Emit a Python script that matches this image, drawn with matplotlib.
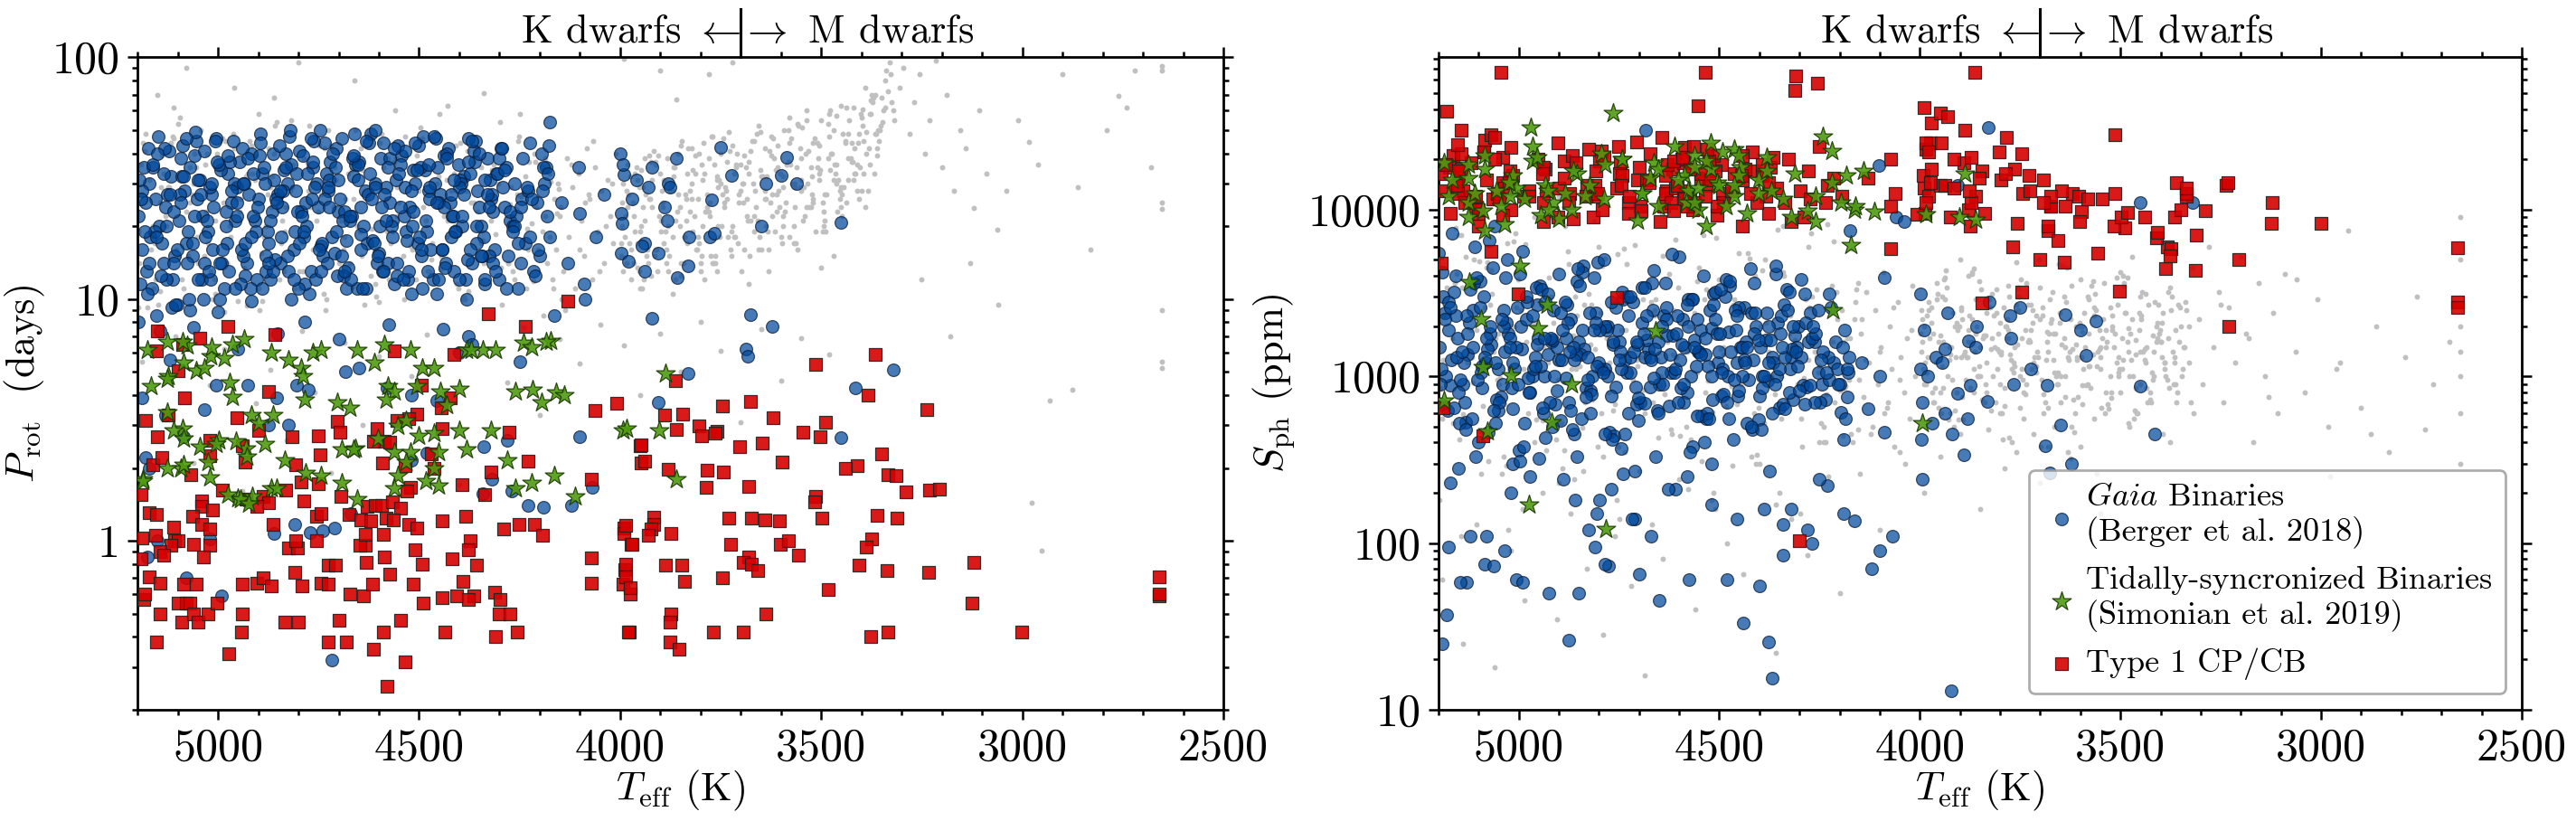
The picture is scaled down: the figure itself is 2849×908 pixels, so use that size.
import numpy as np
import matplotlib
matplotlib.use("Agg")
import matplotlib.pyplot as plt
import matplotlib.transforms as mtransforms
from matplotlib.ticker import FuncFormatter, MultipleLocator, LogLocator, NullFormatter

plt.rcParams["font.family"] = ["cmr10", "DejaVu Serif"]
plt.rcParams["mathtext.fontset"] = "cm"
plt.rcParams["axes.formatter.use_mathtext"] = True
plt.rcParams["axes.unicode_minus"] = False

# ---------------- data (Teff [K], Prot [days], Sph [ppm]) ----------------
# gray: all stars, dense K-dwarf cloud
GRAY_A_TEFF = [
    5195, 5172, 5148, 5131, 5117, 5090, 5066, 5052, 5031, 5008,
    4987, 4963, 4941, 4925, 4902, 4880, 4861, 4837, 4816, 4792,
    4774, 4751, 4733, 4710, 4688, 4662, 4645, 4621, 4603, 4580,
    4558, 4537, 4511, 4493, 4470, 4452, 4428, 4406, 4383, 4361,
    4342, 4318, 4297, 4275, 4254, 4231, 4212, 4190, 4172, 4158,
    5188, 5160, 5139, 5104, 5079, 5043, 5019, 4995, 4972, 4950,
    4918, 4893, 4870, 4848, 4825, 4803, 4781, 4760, 4738, 4716,
    4695, 4671, 4652, 4630, 4610, 4589, 4566, 4545, 4522, 4500,
    4478, 4459, 4437, 4414, 4392, 4370, 4349, 4326, 4304, 4284,
    4262, 4240, 4220, 4199, 4181, 4164, 5176, 5111, 5024, 4931,
    5199, 5183, 5155, 5124, 5097, 5071, 5047, 5013, 4982, 4956,
    4935, 4909, 4886, 4854, 4831, 4809, 4786, 4765, 4744, 4720,
    4699, 4677, 4655, 4636, 4614, 4594, 4571, 4550, 4528, 4505,
    4484, 4463, 4444, 4420, 4398, 4377, 4355, 4333, 4311, 4290,
    4268, 4246, 4226, 4205, 4186, 4167, 5141, 5058, 4977, 4868,
    5191, 5166, 5144, 5113, 5085, 5062, 5037, 5002, 4978, 4946,
    4914, 4897, 4875, 4842, 4820, 4797, 4777, 4755, 4727, 4705,
    4683, 4666, 4640, 4617, 4598, 4575, 4555, 4533, 4516, 4489,
    4466, 4447, 4432, 4410, 4388, 4365, 4345, 4322, 4300, 4279,
    4258, 4235, 4216, 4194, 4176, 4153, 5128, 5035, 4960, 4890,
    5198, 5179, 5157, 5136, 5119, 5094, 5070, 5049, 5027, 5006,
    4984, 4960, 4938, 4921, 4899, 4877, 4858, 4834, 4813, 4789,
    4771, 4748, 4730, 4707, 4685, 4659, 4642, 4618, 4600, 4577,
    4556, 4534, 4508, 4490, 4467, 4449, 4425, 4403, 4380, 4358,
    4339, 4315, 4294, 4272, 4251, 4228, 4209, 4187, 4169, 4155,
    5186, 5163, 5143, 5121, 5099, 5075, 5054, 5029, 5010, 4990,
    4968, 4944, 4928, 4906, 4884, 4865, 4840, 4818, 4795, 4776,
    4753, 4736, 4713, 4691, 4667, 4648, 4625, 4606, 4583, 4561,
    4540, 4514, 4496, 4473, 4455, 4431, 4409, 4386, 4364, 4345,
    4321, 4299, 4278, 4257, 4233, 4214, 4192, 4174, 4160, 4151,
]
GRAY_A_PROT = [
    14, 31, 9.5, 22, 44, 12, 27, 18, 36, 10.5,
    25, 48, 15, 33, 11, 20, 40, 13, 29, 17,
    52, 23, 9, 35, 16, 26, 42, 12.5, 30, 19,
    38, 10, 24, 46, 14.5, 32, 21, 11.5, 28, 41,
    17.5, 34, 13.5, 24.5, 45, 19.5, 37, 8.5, 30.5, 22.5,
    27, 11, 39, 16, 23, 50, 13, 34, 20, 9.8,
    43, 15.5, 29, 12, 37, 24, 18, 47, 10.5, 31,
    21, 14, 40, 26, 11.5, 35, 19, 44, 16.5, 28,
    13, 49, 22, 33, 10, 25, 38, 15, 30, 42,
    12, 27.5, 20.5, 36, 14, 26, 9.2, 46, 17, 32,
    19, 41, 12, 29, 15, 35, 22, 10, 45, 26,
    13.5, 31, 18, 54, 24, 11, 38, 16, 27, 43,
    14, 33, 20, 9.5, 30, 48, 17, 25, 12.5, 39,
    21, 35.5, 15, 28, 44, 10.8, 23, 32, 18.5, 41,
    13, 26.5, 37, 16, 22, 11, 29, 40, 14, 24,
    36, 16, 25, 47, 11, 30, 19, 40, 14, 23,
    33, 9, 42, 17, 28, 13, 36.5, 21, 50, 15,
    26, 11.2, 34, 19.5, 44, 12, 29, 39, 16, 24,
    46, 13.2, 31, 20, 10.2, 37, 17, 27, 43, 14,
    23.5, 32, 11.8, 35, 18, 28.5, 20, 15, 42, 9.8,
    9.2, 48, 17, 33, 12, 56, 25, 14, 40, 21,
    8.8, 30, 16, 45, 11, 27, 52, 19, 36, 13,
    24, 43, 10, 31, 18, 50, 15, 28, 9.7, 38,
    22, 47, 12, 34, 17, 58, 26, 11, 41, 20,
    14, 36, 9.5, 29, 47, 16, 24, 38, 12, 30,
    44, 20, 10.8, 29, 53, 15, 35, 23, 12, 46,
    18, 26, 9.4, 39, 14, 32, 21, 55, 11, 28,
    17, 42, 24, 13, 34, 19, 48, 10.2, 26, 37,
    15, 22, 51, 13, 30, 18, 43, 10, 25, 35,
    21, 54, 14, 27, 11, 40, 19, 33, 16, 22,
]
GRAY_A_SPH = [
    850, 2400, 420, 5200, 1300, 660, 3100, 1800, 290, 7200,
    1100, 2000, 540, 3900, 950, 1500, 240, 2700, 720, 4600,
    1200, 380, 1900, 6100, 830, 2300, 1000, 480, 3400, 1400,
    610, 2900, 160, 1700, 870, 5500, 1150, 340, 2100, 780,
    4200, 1350, 560, 2600, 1050, 8200, 700, 1600, 450, 3300,
    1250, 3600, 590, 1900, 4800, 260, 1050, 2500, 760, 1450,
    9000, 520, 2200, 1150, 3100, 380, 1700, 680, 5800, 950,
    1300, 2800, 430, 1600, 6600, 880, 2000, 310, 1200, 3800,
    740, 1500, 2400, 600, 4300, 1000, 200, 1800, 900, 2900,
    1400, 500, 3500, 820, 1700, 2200, 650, 5000, 1100, 360,
    2100, 700, 4100, 1350, 470, 2700, 980, 6400, 1600, 550,
    3200, 1200, 360, 2300, 840, 1450, 5100, 620, 1900, 1050,
    270, 3700, 1250, 780, 2500, 1500, 420, 4500, 940, 1800,
    660, 2900, 1150, 330, 2000, 1400, 7600, 710, 1650, 980,
    3000, 520, 1300, 2200, 870, 400, 3400, 1700, 600, 1100,
    560, 1700, 7000, 920, 2600, 1400, 330, 3800, 1000, 640,
    2100, 1250, 4700, 490, 1550, 2400, 800, 180, 3000, 1150,
    1900, 700, 5300, 1350, 440, 2000, 1050, 3300, 610, 1500,
    2700, 900, 1200, 4000, 520, 1750, 1000, 2300, 750, 6000,
    1300, 400, 1600, 2500, 950, 3600, 1200, 680, 2100, 280,
    180, 3400, 7800, 550, 1900, 260, 4300, 900, 120, 2600,
    6200, 400, 1500, 3000, 230, 5600, 1100, 700, 8600, 330,
    2100, 140, 4700, 1250, 600, 2900, 9500, 450, 1700, 210,
    3700, 800, 6800, 1350, 290, 2300, 5100, 650, 1000, 170,
    4000, 1550, 380, 7200, 1150, 250, 3200, 850, 5800, 480,
    2300, 520, 110, 1400, 4900, 310, 950, 6300, 2000, 160,
    750, 3500, 1200, 420, 8000, 1750, 270, 2700, 600, 1100,
    5400, 350, 1600, 2900, 130, 880, 4100, 1300, 500, 2400,
    7000, 200, 1450, 3800, 680, 1000, 300, 5000, 1900, 560,
    2500, 150, 1250, 3300, 780, 6400, 440, 1700, 2800, 950,
]

# gray: sparse strip between the K and M clouds
GRAY_B_TEFF = [4148, 4141, 4133, 4127, 4119, 4112, 4104, 4097, 4090, 4083,
               4076, 4070, 4063, 4055, 4047, 4040, 4032, 4025, 4018, 4011,
               4145, 4122, 4101, 4088, 4066, 4051, 4036, 4021, 4137, 4079]
GRAY_B_PROT = [24, 13, 38, 18, 29, 11, 33, 21, 15, 42,
               26, 12, 35, 19, 28, 14, 31, 22, 17, 40,
               10, 36, 16, 25, 45, 13, 20, 30, 9, 27]
GRAY_B_SPH = [1800, 750, 3200, 1200, 500, 2500, 900, 1500, 4200, 650,
              2000, 1100, 380, 2800, 1300, 800, 1700, 560, 3500, 1000,
              2200, 450, 1400, 600, 2600, 950, 300, 1900, 1250, 700]

# gray: M-dwarf cloud
GRAY_C_TEFF = [
    3998, 3985, 3972, 3960, 3947, 3933, 3921, 3908, 3894, 3882,
    3869, 3855, 3842, 3830, 3816, 3803, 3790, 3777, 3764, 3750,
    3738, 3724, 3711, 3698, 3684, 3671, 3658, 3645, 3632, 3618,
    3605, 3592, 3579, 3566, 3552, 3540, 3526, 3513, 3500, 3486,
    3473, 3460, 3447, 3434, 3420, 3407, 3394, 3380, 3366, 3352,
    3992, 3978, 3966, 3953, 3940, 3926, 3914, 3901, 3888, 3875,
    3862, 3849, 3836, 3823, 3810, 3797, 3783, 3770, 3757, 3744,
    3731, 3717, 3704, 3691, 3678, 3664, 3651, 3638, 3625, 3611,
    3598, 3585, 3572, 3559, 3546, 3533, 3520, 3506, 3493, 3480,
    3466, 3453, 3440, 3427, 3414, 3400, 3387, 3373, 3360, 3340,
    3995, 3981, 3969, 3956, 3943, 3930, 3917, 3904, 3891, 3878,
    3865, 3852, 3839, 3826, 3813, 3800, 3787, 3773, 3760, 3747,
    3734, 3721, 3708, 3694, 3681, 3668, 3655, 3641, 3628, 3615,
    3602, 3588, 3575, 3562, 3549, 3536, 3523, 3510, 3496, 3483,
    3470, 3457, 3444, 3430, 3417, 3404, 3390, 3377, 3363, 3330,
    3996, 3983, 3963, 3950, 3937, 3924, 3911, 3898, 3885, 3872,
    3859, 3846, 3833, 3820, 3807, 3794, 3780, 3767, 3754, 3741,
    3728, 3714, 3701, 3688, 3675, 3661, 3648, 3635, 3622, 3608,
    3595, 3582, 3569, 3556, 3543, 3530, 3516, 3503, 3490, 3476,
    3463, 3450, 3437, 3423, 3410, 3397, 3384, 3370, 3356, 3345,
    3989, 3975, 3958, 3944, 3928, 3913, 3896, 3880, 3866, 3850,
    3835, 3819, 3805, 3789, 3775, 3760, 3745, 3730, 3716, 3700,
    3686, 3670, 3656, 3640, 3626, 3612, 3596, 3580, 3566, 3550,
    3536, 3521, 3506, 3492, 3478, 3462, 3448, 3433, 3418, 3402,
    3389, 3375, 3358, 3342, 3328, 3318, 3945, 3790, 3630, 3470,
    3993, 3979, 3964, 3949, 3935, 3920, 3906, 3892, 3877, 3863,
    3848, 3834, 3821, 3806, 3792, 3778, 3763, 3749, 3735, 3720,
    3706, 3692, 3677, 3663, 3649, 3634, 3620, 3606, 3591, 3577,
    3563, 3548, 3534, 3520, 3505, 3491, 3477, 3462, 3448, 3434,
    3419, 3405, 3391, 3376, 3362, 3348, 3335, 3950, 3760, 3560,
    3987, 3972, 3957, 3942, 3927, 3912, 3898, 3884, 3870, 3856,
    3841, 3827, 3812, 3798, 3784, 3770, 3756, 3741, 3726, 3711,
    3697, 3683, 3668, 3654, 3639, 3625, 3611, 3596, 3582, 3568,
    3553, 3539, 3525, 3510, 3496, 3482, 3468, 3453, 3439, 3425,
    3411, 3396, 3382, 3368, 3354, 3338, 3325, 3870, 3680, 3500,
    3997, 3982, 3967, 3953, 3938, 3923, 3909, 3895, 3880, 3866,
    3852, 3837, 3823, 3809, 3795, 3780, 3766, 3752, 3737, 3723,
    3709, 3694, 3680, 3666, 3652, 3637, 3623, 3609, 3594, 3580,
    3566, 3551, 3537, 3523, 3508, 3494, 3480, 3465, 3451, 3437,
    3422, 3408, 3394, 3379, 3365, 3350, 3400, 3450, 3600, 3800,
]
GRAY_C_PROT = [
    15, 28, 12, 35, 20, 16, 31, 13, 24, 38,
    18, 27, 14, 42, 22, 17, 33, 25, 15, 40,
    29, 19, 36, 13, 26, 45, 21, 32, 16, 38,
    24, 50, 18, 30, 42, 22, 35, 19, 55, 27,
    40, 23, 48, 31, 62, 26, 45, 36, 70, 52,
    30, 17, 22, 13, 38, 26, 15, 33, 19, 28,
    12, 43, 21, 30, 16, 36, 24, 14, 29, 46,
    18, 33, 25, 39, 15, 28, 34, 20, 47, 27,
    17, 36, 30, 53, 21, 41, 26, 33, 20, 58,
    36, 28, 44, 38, 33, 56, 49, 65, 42, 80,
    20, 36, 25, 17, 29, 14, 41, 22, 31, 15,
    35, 24, 18, 28, 39, 13, 23, 47, 32, 20,
    26, 43, 17, 30, 37, 22, 52, 28, 41, 19,
    33, 25, 46, 35, 28, 60, 32, 44, 25, 38,
    50, 31, 29, 55, 42, 35, 75, 58, 48, 95,
    25, 14, 33, 19, 27, 12.5, 37, 21, 16, 30,
    23, 45, 17, 34, 26, 20, 38, 14, 31, 24,
    41, 18, 28, 35, 21, 48, 16, 32, 27, 43,
    22, 37, 17, 52, 29, 24, 46, 34, 19, 40,
    30, 63, 25, 44, 36, 52, 28, 68, 45, 60,
    18, 32, 13.5, 24, 39, 16, 28, 20, 35, 14,
    26, 19, 40, 23, 15, 31, 27, 49, 18, 36,
    22, 30, 16, 42, 25, 34, 20, 56, 29, 38,
    24, 44, 31, 27, 60, 36, 22, 48, 33, 58,
    40, 70, 50, 62, 85, 55, 11, 12, 13, 15,
    13, 27, 19, 34, 15, 24, 39, 17, 29, 21,
    12.5, 33, 26, 18, 44, 22, 14, 30, 37, 20,
    27, 16, 41, 24, 32, 19, 46, 28, 23, 36,
    17, 51, 30, 25, 43, 21, 34, 57, 27, 38,
    31, 48, 24, 66, 39, 54, 72, 11, 13, 16,
    22, 16, 31, 12, 26, 36, 19, 14, 28, 40,
    18, 23, 33, 15, 27, 47, 20, 25, 16, 35,
    30, 21, 45, 18, 26, 39, 23, 32, 50, 20,
    29, 40, 24, 35, 19, 53, 31, 26, 45, 37,
    28, 61, 42, 33, 50, 88, 65, 10.5, 11.5, 13.5,
    17, 24, 14, 29, 21, 37, 16, 25, 13, 32,
    20, 27, 42, 16, 31, 23, 36, 18, 28, 15,
    40, 25, 33, 19, 49, 26, 22, 35, 29, 44,
    24, 31, 55, 27, 38, 23, 47, 33, 29, 62,
    37, 44, 33, 58, 48, 68, 28, 24, 18, 14,
]
GRAY_C_SPH = [
    1800, 900, 2600, 1200, 600, 3400, 1500, 2100, 750, 1300,
    4200, 1000, 1700, 480, 2300, 1400, 850, 3000, 1150, 650,
    1900, 2700, 1050, 380, 1600, 2200, 900, 4600, 1300, 720,
    2000, 1100, 2900, 560, 1450, 3600, 1000, 1800, 800, 2400,
    1250, 600, 3200, 1500, 950, 2100, 450, 1700, 1200, 2600,
    1100, 2500, 700, 1600, 3800, 1250, 500, 2000, 1400, 850,
    2900, 1000, 1750, 620, 3300, 1350, 2200, 400, 1550, 950,
    2700, 1200, 5000, 780, 1800, 1050, 2400, 1500, 320, 2000,
    1300, 880, 3500, 1150, 1700, 680, 2300, 1000, 4000, 1400,
    560, 1900, 1250, 800, 2800, 1600, 1000, 3000, 700, 1500,
    2200, 1300, 800, 3100, 1600, 1000, 2400, 550, 1350, 1900,
    4400, 1150, 700, 2600, 1500, 900, 2000, 1250, 350, 1700,
    3600, 1100, 1400, 2300, 650, 1800, 1050, 3000, 1250, 460,
    2100, 1500, 850, 2500, 1300, 1900, 740, 3900, 1100, 1600,
    2200, 600, 1400, 2700, 1000, 1800, 1200, 3400, 900, 2000,
    1400, 2300, 850, 1750, 3900, 600, 1300, 2600, 950, 1600,
    2000, 720, 1200, 3100, 1450, 420, 1900, 1050, 2500, 800,
    1650, 1300, 3400, 700, 2100, 1000, 1550, 2800, 500, 1250,
    1850, 900, 3700, 1400, 2200, 640, 1500, 1100, 2400, 1800,
    850, 3000, 1200, 700, 1600, 2100, 950, 1400, 2700, 1100,
    900, 1700, 2900, 1150, 550, 2000, 1300, 4000, 800, 1500,
    2400, 1000, 1800, 660, 1350, 2700, 1100, 1600, 450, 2200,
    1250, 3200, 900, 1700, 1400, 600, 2000, 1150, 2600, 1500,
    800, 1900, 1300, 3500, 1000, 1650, 2300, 700, 1400, 1900,
    1100, 2500, 800, 1500, 1200, 600, 3000, 280, 350, 5200,
    1600, 2800, 700, 1250, 4300, 950, 1900, 550, 2300, 1400,
    3300, 800, 1700, 1100, 2600, 430, 1500, 3800, 900, 2100,
    1300, 600, 2900, 1800, 1000, 4500, 1450, 750, 2400, 1150,
    3100, 650, 1600, 2000, 1050, 3600, 500, 1350, 2200, 850,
    1750, 2700, 1200, 400, 1900, 1000, 2500, 330, 4800, 260,
    1200, 2100, 3600, 850, 1500, 620, 2500, 1300, 4100, 1000,
    1750, 2900, 700, 1400, 2000, 1100, 3400, 560, 1600, 2300,
    950, 1850, 1250, 4700, 750, 2200, 1550, 880, 3000, 1350,
    1900, 600, 2600, 1200, 1700, 3900, 1000, 2400, 1450, 720,
    2000, 1300, 3200, 900, 1600, 2800, 700, 2200, 380, 4200,
    2500, 1050, 1800, 650, 2900, 1350, 800, 2200, 1600, 1100,
    3700, 900, 1450, 2400, 600, 1700, 1200, 3000, 780, 1900,
    1150, 2600, 1400, 500, 2100, 1000, 3500, 1300, 680, 1800,
    2300, 1100, 1500, 800, 2700, 1250, 1950, 620, 1400, 3100,
    1050, 1700, 2400, 850, 1300, 2000, 1600, 900, 3800, 2100,
]

# gray: late M dwarfs, sparse
GRAY_D_TEFF = [3320, 3305, 3295, 3280, 3268, 3255, 3243, 3230, 3215, 3200,
               3188, 3170, 3155, 3140, 3120, 3108, 3090, 3063, 3040, 3010,
               2983, 2962, 2932, 2900, 2862, 2830, 2790, 2761, 2740, 2720,
               2680, 2652, 2652, 2652, 2652, 2652, 2652, 2652, 3250, 3180,
               3130, 3060, 2977, 2953, 2875]
GRAY_D_PROT = [60, 75, 90, 48, 65, 85, 40, 55, 97, 35,
               70, 28, 50, 42, 23.7, 60, 33, 19.4, 28, 55,
               44.5, 36, 3.8, 85, 29, 16, 50, 69, 62, 88,
               35, 92, 88, 25, 23.5, 9, 5.5, 5.2, 12, 7,
               14, 9.5, 1.44, 0.91, 4.2]
GRAY_D_SPH = [4500, 2200, 900, 6000, 1500, 3200, 700, 2600, 1200, 5200,
              1800, 400, 3600, 1000, 2400, 600, 4100, 1400, 800, 2900,
              500, 1100, 7500, 650, 2000, 350, 1300, 3000, 480, 900,
              1600, 9000, 5000, 2000, 1400, 600, 300, 1000, 2700, 1700,
              750, 3800, 250, 1200, 450]

# gray: fast rotators / low-variability outliers
GRAY_E_TEFF = [5190, 5140, 5105, 5060, 5020, 4985, 4940, 4905, 4870, 4830,
               4790, 4760, 4720, 4685, 4640, 4600, 4560, 4520, 4480, 4440,
               4400, 4360, 4320, 4280, 4240, 4200, 4150, 4100, 4050, 3990,
               3950, 3900, 3850, 3800, 3750, 3700, 3650, 3600, 3550, 3480]
GRAY_E_PROT = [5.5, 3.2, 7, 2.1, 4.4, 6.2, 1.6, 3.7, 5.1, 2.6,
               7.4, 4.1, 1.9, 6.6, 3.0, 5.8, 2.3, 4.8, 7.1, 3.5,
               1.7, 6.0, 2.8, 4.5, 7.6, 3.3, 6.8, 5.4, 7.8, 6.4,
               4.0, 7.2, 5.0, 8.0, 6.1, 3.1, 7.5, 4.6, 6.9, 5.9]
GRAY_E_SPH = [60, 25, 130, 18, 90, 45, 200, 35, 150, 70,
              28, 110, 55, 16, 80, 240, 40, 180, 100, 65,
              300, 22, 140, 85, 400, 50, 260, 120, 350, 200,
              800, 450, 160, 600, 1000, 230, 700, 380, 150, 520]

GRAY_TOP = [(5150, 70, 7000), (5080, 90, 4500), (4960, 75, 9000), (4860, 68, 3000),
            (4800, 95, 6000), (4660, 80, 2500), (4430, 63, 5500), (4340, 71, 8000),
            (3990, 98, 2000), (3900, 88, 5000), (3860, 67, 1800), (3780, 85, 3500),
            (3720, 95, 2500), (5110, 62, 10500), (4900, 58, 12000), (4560, 60, 600),
            (4250, 58, 400)]

# blue: Gaia binaries (Berger et al. 2018), dense K-dwarf group
BLUE_TEFF = [
    5197, 5178, 5161, 5140, 5122, 5101, 5083, 5064, 5045, 5026,
    5004, 4985, 4966, 4947, 4928, 4908, 4889, 4870, 4851, 4832,
    4812, 4793, 4774, 4754, 4735, 4716, 4697, 4677, 4658, 4639,
    4620, 4600, 4581, 4562, 4543, 4523, 4504, 4485, 4466, 4446,
    4427, 4408, 4389, 4369, 4350, 4331, 4312, 4292, 4273, 4254,
    5190, 5170, 5152, 5131, 5113, 5092, 5074, 5055, 5035, 5016,
    4995, 4976, 4957, 4938, 4918, 4899, 4880, 4861, 4842, 4822,
    4803, 4784, 4764, 4745, 4726, 4706, 4687, 4668, 4649, 4630,
    4610, 4591, 4572, 4552, 4533, 4514, 4495, 4476, 4456, 4437,
    4418, 4398, 4379, 4360, 4340, 4321, 4302, 4283, 4263, 4235,
    5185, 5165, 5146, 5127, 5108, 5088, 5069, 5050, 5031, 5011,
    4991, 4971, 4952, 4933, 4913, 4894, 4875, 4856, 4837, 4817,
    4798, 4779, 4759, 4740, 4721, 4701, 4682, 4663, 4644, 4625,
    4605, 4586, 4567, 4547, 4528, 4509, 4490, 4471, 4451, 4432,
    4413, 4393, 4374, 4355, 4336, 4316, 4297, 4278, 4244, 4215,
    5193, 5174, 5156, 5136, 5117, 5097, 5078, 5059, 5040, 5021,
    5000, 4981, 4962, 4942, 4923, 4904, 4885, 4866, 4846, 4827,
    4808, 4788, 4769, 4750, 4731, 4711, 4692, 4673, 4654, 4634,
    4615, 4596, 4577, 4557, 4538, 4519, 4500, 4480, 4461, 4442,
    4423, 4403, 4384, 4365, 4345, 4326, 4307, 4288, 4225, 4196,
    5188, 5168, 5149, 5129, 5110, 5091, 5072, 5052, 5033, 5014,
    4993, 4973, 4954, 4935, 4916, 4896, 4877, 4858, 4839, 4819,
    4800, 4781, 4762, 4742, 4723, 4704, 4685, 4665, 4646, 4627,
    4608, 4588, 4569, 4550, 4531, 4511, 4492, 4473, 4454, 4434,
    4415, 4396, 4377, 4357, 4338, 4319, 4300, 4268, 4206, 4185,
    5199, 5181, 5158, 5134, 5115, 5095, 5076, 5057, 5038, 5018,
    4998, 4978, 4959, 4940, 4920, 4901, 4882, 4863, 4844, 4824,
    4805, 4786, 4766, 4747, 4728, 4709, 4689, 4670, 4651, 4632,
    4612, 4593, 4574, 4555, 4535, 4516, 4497, 4478, 4458, 4439,
    4420, 4401, 4381, 4362, 4343, 4323, 4259, 4248, 4228, 4178,
    5196, 5176, 5154, 5133, 5111, 5093, 5071, 5049, 5028, 5007,
    4988, 4966, 4945, 4926, 4905, 4883, 4862, 4841, 4820, 4798,
    4778, 4757, 4736, 4714, 4693, 4672, 4652, 4631, 4609, 4588,
    4567, 4546, 4526, 4505, 4483, 4463, 4442, 4421, 4400, 4378,
    4358, 4337, 4316, 4295, 4274, 4253, 4232, 4211, 4190, 4182,
    5183, 5162, 5141, 5120, 5102, 5080, 5058, 5037, 5015, 4996,
    4975, 4954, 4933, 4912, 4891, 4870, 4848, 4828, 4807, 4786,
    4765, 4744, 4723, 4702, 4681, 4661, 4640, 4619, 4598, 4577,
    4556, 4535, 4515, 4494, 4473, 4452, 4431, 4410, 4389, 4368,
    4347, 4326, 4305, 4284, 4263, 4242, 4221, 4200, 4188, 4176,
    5192, 5171, 5150, 5128, 5106, 5085, 5063, 5042, 5022, 5002,
    4980, 4958, 4937, 4916, 4895, 4874, 4853, 4832, 4811, 4790,
    4769, 4748, 4727, 4706, 4685, 4664, 4644, 4623, 4602, 4581,
    4561, 4540, 4519, 4498, 4477, 4456, 4435, 4414, 4393, 4372,
    4351, 4330, 4309, 4288, 4267, 4246, 4225, 4204, 4192, 4180,
]
BLUE_PROT = [
    22, 13, 35, 17, 41, 9.5, 28, 15, 31, 19,
    46, 11, 25, 37, 14, 21, 33, 12, 27, 40,
    16, 23, 10.5, 30, 44, 18, 26, 13.5, 36, 20,
    48, 15.5, 29, 11.5, 39, 24, 17, 34, 12, 27,
    42, 19, 32, 14, 24, 38, 16, 29, 21, 11,
    16, 30, 8.5, 24, 12, 38, 19, 45, 14, 27,
    10, 33, 21, 15, 40, 26, 13, 31, 18, 47,
    23, 11.5, 35, 16.5, 28, 42, 12.5, 22, 37, 17,
    30, 13, 25, 43, 19, 34, 15, 28, 10.5, 39,
    22, 31, 14.5, 45, 18, 26, 12, 35, 30, 17,
    35, 11, 20, 27, 15, 43, 9, 31, 18, 24,
    14, 37, 29, 12.5, 22, 48, 17, 26, 34, 10,
    41, 20, 29, 15, 37, 23, 11, 32, 18.5, 44,
    14, 27, 21, 36, 12, 30, 47, 16, 25, 40,
    13, 20, 33, 28, 11.5, 23, 42, 15, 26, 13,
    11.5, 42, 26, 14, 32, 21, 17, 39, 12, 29,
    8.8, 20, 45, 16, 27, 12, 35, 23, 14, 30,
    19, 39, 13, 24, 33, 15.5, 46, 21, 11, 28,
    17.5, 38, 14, 31, 22, 10.5, 43, 19, 30, 16,
    25, 36, 12, 41, 20, 15, 33, 24, 18, 40,
    28, 18, 47, 12, 23, 32, 10, 26, 41, 16,
    34, 13, 22, 30, 9.8, 39, 19, 14.5, 28, 36,
    11, 25, 45, 17, 31, 12.5, 23, 38, 16, 27,
    50, 13, 20, 33, 17.5, 44, 11, 26, 35, 14,
    22, 30, 46, 17, 12, 27, 38, 20, 25, 35,
    8, 25, 19, 33, 9.2, 27, 14, 49, 22, 12,
    36, 17, 30, 42, 11, 24, 15, 40, 28, 13,
    33, 18, 26, 50, 14, 35, 21, 12, 31, 45,
    17, 24, 38, 12.5, 29, 20, 35, 13, 46, 24,
    18, 29, 10, 37, 15, 31, 22, 14, 28, 43,
    31, 10.5, 18, 42, 14, 25, 35, 12, 21, 45,
    16, 28, 11.5, 38, 19, 30, 13, 24, 50, 17,
    33, 12, 26, 40, 15, 22, 36, 11, 29, 44,
    18, 24, 13, 34, 21, 47, 16, 27, 12, 37,
    20, 31, 14, 42, 23, 17, 29, 12.5, 35, 22,
    19, 36, 12.5, 27, 16, 46, 22, 10, 30, 14,
    39, 25, 17, 33, 11, 21, 43, 15, 28, 19,
    37, 13, 24, 31, 17.5, 48, 11, 26, 20, 35,
    14, 41, 23, 16, 29, 12, 38, 19, 27, 45,
    15, 24, 33, 11, 20, 38, 26, 15, 30, 18,
    26, 14, 40, 20, 9.5, 32, 17, 27, 13, 37,
    23, 11, 30, 18, 44, 14, 25, 35, 12, 22,
    46, 16, 29, 19, 13, 39, 24, 33, 15, 21,
    42, 12, 28, 18, 36, 25, 13.5, 31, 22, 16,
    40, 27, 13, 34, 19, 24, 44, 16, 28, 33,
]
BLUE_SPH = [
    1500, 620, 3200, 900, 2100, 400, 1200, 4500, 750, 1800,
    2600, 520, 1000, 3500, 1350, 680, 240, 2200, 1600, 850,
    3900, 1100, 460, 1900, 1250, 2800, 700, 1450, 330, 2300,
    1050, 5200, 800, 1650, 580, 2500, 1200, 3000, 420, 1500,
    950, 2000, 160, 1300, 650, 3300, 1750, 880, 2400, 1050,
    4200, 880, 1700, 530, 2500, 1150, 6500, 720, 1400, 300,
    2000, 980, 3400, 600, 1600, 1250, 2700, 450, 1900, 820,
    4800, 1100, 1550, 370, 2300, 680, 1300, 3600, 900, 1750,
    210, 2200, 1000, 1400, 560, 3100, 760, 1850, 1200, 2600,
    480, 1500, 940, 4100, 680, 1300, 2000, 860, 1600, 720,
    2400, 7200, 950, 1350, 330, 3000, 1550, 620, 2100, 1100,
    5600, 800, 1700, 430, 2500, 1250, 700, 3700, 1450, 1000,
    180, 2000, 860, 2900, 1300, 540, 1650, 4300, 1050, 660,
    2300, 1500, 380, 1900, 1150, 3200, 780, 1400, 2600, 520,
    1800, 1000, 270, 2100, 1300, 720, 3800, 1600, 900, 1200,
    680, 1900, 4000, 1200, 560, 2600, 1450, 8000, 900, 1700,
    360, 2200, 1100, 3300, 700, 1500, 2800, 480, 1350, 950,
    2400, 5000, 760, 1600, 1050, 140, 2100, 1300, 620, 3600,
    1750, 850, 2900, 1150, 400, 1950, 1400, 700, 2500, 1000,
    4400, 550, 1650, 1200, 2300, 800, 1500, 3100, 950, 610,
    3000, 1250, 520, 2300, 6000, 850, 1800, 1100, 3900, 640,
    1450, 250, 2700, 1000, 1650, 540, 2100, 1350, 4600, 780,
    1200, 1900, 440, 3200, 1050, 1550, 690, 2500, 1300, 210,
    1800, 900, 2900, 1400, 600, 2200, 1100, 3500, 760, 1600,
    1250, 480, 2000, 1000, 2700, 1450, 820, 1700, 1100, 560,
    5500, 1000, 2300, 700, 1500, 3700, 460, 1200, 2000, 850,
    310, 2800, 1300, 650, 1700, 4100, 980, 1500, 560, 2400,
    1150, 2000, 420, 1400, 3000, 860, 1800, 1250, 600, 2600,
    1050, 1550, 350, 2200, 1350, 720, 3300, 1000, 1900, 1250,
    500, 1650, 2400, 900, 1500, 1100, 1800, 700, 1300, 1050,
    900, 2800, 1300, 480, 3600, 1050, 2000, 700, 5000, 1500,
    380, 2300, 1150, 3100, 820, 1700, 1250, 4200, 600, 1900,
    1000, 2600, 450, 1400, 3400, 860, 1600, 2200, 1100, 700,
    2900, 1350, 560, 1800, 3800, 950, 1500, 2400, 760, 1200,
    4600, 640, 2000, 1300, 880, 2500, 1050, 1600, 420, 1100,
    2200, 650, 1400, 3300, 950, 1700, 520, 2500, 1200, 4100,
    800, 1550, 2800, 1000, 1900, 620, 3500, 1300, 2100, 450,
    1600, 1100, 3000, 740, 2300, 1450, 900, 5400, 1250, 2000,
    580, 1700, 2700, 1050, 3700, 820, 1500, 2400, 1000, 600,
    1800, 3200, 1150, 2100, 700, 1400, 2600, 900, 1900, 1300,
    1100, 2600, 800, 1800, 3900, 1300, 620, 2200, 1500, 900,
    3000, 1150, 1700, 500, 2400, 1400, 4400, 750, 1900, 1050,
    2800, 1250, 600, 1600, 3400, 980, 2000, 1350, 700, 2700,
    1500, 4000, 1000, 1800, 560, 2300, 1200, 3600, 850, 1650,
    1100, 2500, 1400, 680, 2000, 1250, 3100, 900, 1500, 750,
]

# blue: fast rotators, M-dwarf group, gap stars
BLUE_EXTRA = [
    (5190, 3.9, 25), (5180, 2.2, 37), (5170, 2.0, 230), (5130, 3.3, 58), (5085, 2.7, 75),
    (5035, 3.5, 90), (5005, 4.4, 60), (4925, 4.4, 50), (4875, 3.0, 26), (4855, 3.9, 330),
    (4825, 3.0, 120), (4805, 4.4, 150), (4775, 4.2, 73), (4860, 1.07, 180), (4810, 1.17, 95),
    (4770, 1.08, 210), (4740, 1.1, 260), (4710, 1.13, 270), (4670, 1.3, 110), (4717, 0.32, 140),
    (4991, 0.59, 58), (5080, 0.7, 110), (5020, 1.02, 200), (5175, 0.86, 95), (5150, 1.0, 280),
    (4520, 2.15, 170), (4480, 2.3, 60), (4455, 3.8, 140), (4520, 4.0, 300), (4580, 4.3, 250),
    (4683, 5.0, 30000), (4340, 2.45, 84), (4280, 2.6, 120), (4320, 1.8, 160), (4230, 1.4, 220),
    (4270, 1.6, 100), (4164, 8.5, 135), (4100, 2.7, 90), (4120, 1.4, 70), (4069, 1.66, 110),
    (4341, 1.57, 130), (4190, 1.38, 150), (3922, 8.3, 13), (3677, 8.6, 263), (3623, 7.7, 300),
    (3687, 6.2, 385), (3682, 5.8, 880), (3830, 4.9, 31000), (3321, 5.1, 11000), (3415, 4.3, 450),
    (3906, 3.74, 14000), (3450, 2.68, 11000), (4650, 5.2, 45), (4400, 6.0, 55), (4950, 6.2, 320),
    (5120, 5.6, 110), (4700, 6.8, 65), (4250, 5.5, 240), (4440, 7.5, 33), (4378, 7.0, 25.6),
    (4368, 6.5, 15.5), (4576, 7.8, 60), (4851, 7.2, 50), (5145, 7.4, 58), (5062, 7.6, 73),
    (4785, 8.0, 75),
    (3999, 40, 3100), (3990, 32.6, 1900), (3960, 31, 1300), (3930, 29, 2400), (3880, 30, 1630),
    (3875, 29, 880), (3998, 22.5, 1100), (3995, 20.5, 700), (3938, 17, 1450), (3882, 21, 560),
    (3828, 18, 2800), (3997, 15.5, 420), (3980, 14.3, 1000), (3938, 13, 600), (3905, 15.5, 790),
    (3832, 13.7, 710), (3858, 12.2, 2000), (3751, 42.4, 2600), (3723, 32.3, 1100), (3772, 25.7, 1700),
    (3776, 18, 2300), (3766, 18.7, 900), (3637, 30, 2350), (3600, 32.4, 1900), (3586, 38.6, 1330),
    (3562, 30, 2150), (3650, 20, 510), (3451, 20.7, 870), (3945, 16.5, 1200), (3890, 24, 340),
    (3970, 26, 520), (3920, 35, 450), (3860, 38, 1500), (3994, 36, 240),
    (4174, 54, 7500), (4103, 35, 18400), (4100, 22.5, 1000), (4089, 11.5, 3900), (4088, 10.0, 460),
    (4130, 14, 640), (4145, 25, 1200), (4060, 18, 9000), (4040, 27, 8500),
]

# green: tidally-synchronized binaries (Simonian et al. 2019)
GREEN = [
    (4997, 2.6, 4600), (5124, 4.8, 3650), (4930, 2.4, 2700), (5093, 2.0, 2200), (4951, 1.5, 1950),
    (4658, 2.4, 1860), (4217, 4.2, 2500), (5089, 2.9, 1140), (5019, 5.8, 1020), (4868, 1.65, 890),
    (5186, 1.8, 712), (5077, 6.4, 470), (4917, 3.3, 530), (3993, 2.85, 520), (4975, 1.55, 170),
    (4782, 1.9, 122), (4173, 6.7, 6100), (3861, 1.8, 8700), (3984, 2.9, 9300), (3902, 2.85, 9000),
    (3888, 4.9, 16500), (4764, 6.0, 38000), (4970, 4.5, 31000), (4241, 6.6, 27500), (4113, 1.53, 9700),
    (4164, 1.86, 10000), (4160, 4.1, 10500), (4140, 4.0, 17000),
    (5176, 6.17, 12000), (5126, 6.65, 18500), (5089, 6.65, 9800), (5166, 4.35, 15000), (5126, 4.69, 11000),
    (5085, 5.44, 21000), (5055, 5.05, 13000), (5035, 5.17, 8200), (5015, 6.3, 16000), (4985, 5.7, 11500),
    (4965, 6.47, 24000), (4934, 6.8, 14000), (4965, 3.94, 19500), (5126, 3.39, 9000), (5110, 2.85, 12500),
    (5085, 2.64, 17500), (5045, 2.45, 10500), (5005, 2.51, 13500), (4955, 2.58, 20500), (5126, 2.0, 15500),
    (5085, 2.06, 7500), (5021, 1.82, 12000), (5186, 1.77, 19000), (5025, 2.11, 14500), (4944, 1.49, 9200),
    (4914, 1.53, 11000), (4854, 1.65, 16500), (4884, 2.51, 12500), (4900, 3.07, 8800), (4928, 2.22, 13000),
    (4864, 3.3, 17000), (4868, 6.0, 10000), (4824, 5.6, 14000), (4794, 5.17, 21500), (4788, 4.8, 11500),
    (4784, 3.84, 18500), (4834, 2.16, 12000), (4743, 6.17, 20000), (4703, 3.74, 8600), (4673, 3.56, 15500),
    (4693, 2.39, 12500), (4663, 2.39, 19000), (4653, 6.17, 10500), (4612, 5.44, 24000), (4586, 6.47, 16000),
    (4578, 4.35, 13000), (4562, 4.14, 21000), (4582, 3.84, 11000), (4522, 6.17, 17500), (4506, 4.35, 14500),
    (4492, 5.17, 22000), (4462, 5.17, 12000), (4446, 4.14, 18000), (4431, 3.65, 9500), (4401, 4.24, 15000),
    (4381, 6.17, 20500), (4341, 6.17, 11500), (4311, 6.17, 16500), (4371, 6.17, 13000), (4552, 2.99, 10000),
    (4532, 3.15, 19500), (4502, 2.71, 14000), (4462, 2.78, 23000), (4401, 2.85, 12500), (4381, 2.39, 17000),
    (4321, 2.85, 9000), (4602, 2.64, 15000), (4562, 2.33, 11000), (4522, 2.33, 25000), (4452, 2.33, 16000),
    (4552, 1.86, 13500), (4532, 2.11, 8000), (4562, 1.65, 18000), (4482, 1.77, 10500), (4452, 1.69, 21000),
    (4462, 2.0, 14000), (4281, 2.16, 9800), (4260, 4.14, 12000), (4220, 6.3, 22500), (4184, 6.65, 16000),
    (4196, 3.74, 11000), (4220, 1.73, 14500), (4260, 1.65, 8500), (4743, 1.86, 20000), (4693, 1.73, 12500),
    (4653, 1.49, 17500), (4924, 1.42, 10000),
]

# red: Type 1 CP/CB
RED = [
    (5152, 6.1, 14000), (5088, 6.5, 22000), (4562, 6.1, 11000), (4413, 5.87, 17000), (5100, 5.06, 9500),
    (5084, 3.9, 26000), (4874, 4.14, 12500), (4494, 4.41, 18500), (5180, 3.15, 39000), (5150, 2.7, 16000),
    (5124, 3.3, 11500), (4952, 3.22, 20000), (4899, 2.87, 13500), (4815, 2.7, 9000), (4751, 2.72, 24000),
    (4704, 3.11, 15000), (4697, 2.8, 10500), (4747, 2.27, 19000), (4807, 2.07, 12000), (4933, 2.12, 17500),
    (4939, 2.47, 8500), (5163, 2.07, 21000), (5140, 2.2, 13000), (5068, 1.87, 28000), (5020, 2.6, 10000),
    (5020, 2.25, 15500), (4989, 1.62, 12000), (4793, 1.75, 22500), (4750, 1.72, 16500), (4695, 1.52, 9800),
    (4831, 1.62, 14000), (4887, 1.52, 19500), (4875, 1.43, 11000), (4903, 1.39, 25000), (4931, 1.49, 13000),
    (5192, 1.55, 4750), (5172, 1.31, 18000), (5152, 1.28, 12500), (5040, 1.46, 20500), (5040, 1.39, 9200),
    (5014, 1.34, 16000), (5064, 1.26, 11500), (5040, 1.17, 14500), (5020, 1.12, 23500), (5110, 1.14, 10500),
    (5021, 0.96, 17000), (5036, 0.86, 13500), (5061, 0.97, 27000), (5108, 1.0, 12000), (5100, 1.0, 8000),
    (5118, 0.96, 19000), (5156, 1.05, 14000), (5188, 1.03, 650), (5144, 0.9, 21500), (5134, 0.87, 11000),
    (5192, 0.84, 16500), (5171, 0.71, 9500), (5143, 0.67, 30000), (5184, 0.57, 13000), (5182, 0.6, 18500),
    (5100, 0.55, 10000), (5080, 0.55, 15000), (5070, 0.55, 5600), (5086, 0.66, 22000), (5054, 0.66, 12500),
    (5143, 0.5, 17500), (5090, 0.46, 440), (5061, 0.5, 20000), (5049, 0.46, 11500), (5024, 0.5, 14500),
    (5002, 0.55, 3100), (5152, 0.38, 24500), (4974, 0.34, 13000), (4939, 0.66, 18000), (4903, 0.67, 9000),
    (4887, 0.7, 15500), (4867, 0.65, 21000), (4939, 0.5, 11000), (4941, 0.42, 16500), (4833, 0.46, 12000),
    (4799, 0.46, 19500), (4792, 0.65, 10000), (4809, 0.74, 14000), (4825, 0.93, 23000), (4803, 0.93, 12500),
    (4807, 1.0, 17000), (4755, 1.0, 2950), (4863, 1.17, 8800), (4787, 1.46, 20500), (4756, 1.26, 13500),
    (4743, 1.29, 16000), (4727, 0.79, 11000), (4707, 0.79, 25500), (4744, 0.67, 14000), (4727, 0.66, 9500),
    (4700, 0.47, 18000), (4725, 0.38, 12000), (4681, 0.38, 15000), (4673, 0.6, 21500), (4638, 0.59, 10500),
    (4616, 0.66, 17500), (4631, 0.81, 13000), (4586, 0.86, 23500), (4574, 0.73, 11500), (4634, 0.96, 16000),
    (4648, 0.96, 8500), (4588, 1.06, 19000), (4634, 1.06, 12500), (4674, 1.28, 14500), (4644, 1.22, 27000),
    (4620, 1.21, 11000), (4630, 1.39, 18500), (4609, 1.4, 13500), (4593, 1.4, 20000), (4566, 1.45, 10000),
    (4546, 1.36, 15500), (4582, 1.24, 12000), (4564, 1.22, 24000), (4526, 1.17, 14000), (4506, 1.13, 9200),
    (4510, 0.92, 17000), (4491, 0.8, 12500), (4515, 0.66, 21000), (4490, 0.55, 11000), (4546, 0.47, 16500),
    (4588, 0.42, 13000), (4613, 0.355, 19500), (4534, 0.315, 66000), (4580, 0.25, 10500), (4443, 1.21, 15000),
    (4384, 1.26, 12000), (4373, 1.0, 18000), (4377, 0.92, 9500), (4418, 0.84, 22000), (4357, 0.79, 13500),
    (4392, 0.68, 16000), (4406, 0.59, 11000), (4365, 0.59, 20500), (4377, 0.57, 14500), (4443, 0.58, 8000),
    (4435, 0.42, 17500), (4312, 0.61, 52000), (4299, 0.57, 13000), (4301, 0.5, 103), (4273, 0.5, 11500),
    (4255, 0.42, 57000), (4309, 0.4, 63000), (4289, 1.12, 9000), (4251, 1.17, 24000), (4214, 1.17, 15500),
    (4194, 1.05, 12000), (4072, 0.85, 10500), (4072, 0.67, 20000), (3990, 1.13, 41000), (3990, 1.07, 13500),
    (3972, 0.97, 33000), (3988, 0.76, 9500), (3992, 0.66, 16000), (3974, 0.6, 25000), (3978, 0.42, 12000),
    (4393, 1.7, 18500), (4337, 1.55, 11000), (4230, 2.14, 14000), (4072, 1.8, 5800), (4277, 2.82, 17000),
    (4008, 3.71, 9300), (4062, 3.45, 12500), (4321, 1.93, 8500), (4442, 2.9, 21000), (4470, 2.28, 13000),
    (4462, 2.0, 16500), (4506, 3.35, 10500), (4526, 3.2, 19500), (4554, 3.15, 42000), (4534, 2.05, 12000),
    (4522, 1.66, 15000), (4530, 1.6, 23000), (4586, 2.57, 11500), (4574, 2.55, 17500), (4604, 2.9, 14000),
    (4614, 2.57, 9800), (4592, 2.1, 20500), (4422, 3.9, 12500), (4445, 3.55, 16000), (3950, 2.47, 14000),
    (3948, 2.1, 38000), (4130, 9.8, 15500), (4327, 8.7, 20000), (4236, 7.7, 11000), (5150, 7.35, 17000),
    (5045, 6.9, 66000), (4975, 7.7, 12000), (4858, 7.1, 19000),
    (3366, 5.87, 9000), (3513, 5.38, 28000), (3383, 3.99, 6000), (3237, 3.49, 14000), (3863, 4.58, 66000),
    (3675, 3.76, 10500), (3746, 3.6, 3180), (3845, 3.34, 2750), (3890, 3.3, 19000), (3620, 3.22, 12500),
    (3489, 3.09, 7800), (3546, 2.81, 11500), (3502, 2.69, 3250), (3803, 2.98, 22000), (3798, 2.72, 15000),
    (3861, 2.88, 12000), (3758, 2.83, 8300), (3763, 2.78, 17500), (3702, 2.44, 5000), (3647, 2.53, 13000),
    (3597, 2.12, 9700), (3947, 2.5, 25000), (3938, 2.13, 14000), (3880, 1.98, 10000), (3784, 1.96, 27000),
    (3743, 1.92, 12500), (3786, 1.66, 16500), (3680, 1.68, 7500), (3350, 2.29, 10000), (3411, 2.05, 6800),
    (3440, 2.0, 9000), (3335, 1.87, 12000), (3313, 1.86, 4300), (3289, 1.59, 9800), (3231, 1.62, 2000),
    (3205, 1.64, 5000), (3513, 1.53, 12500), (3516, 1.45, 8000), (3916, 1.25, 13500), (3916, 1.17, 20000),
    (3923, 1.12, 9000), (3931, 1.05, 36000), (3873, 1.07, 11000), (3971, 0.97, 17500), (3986, 1.16, 23000),
    (3729, 1.24, 16000), (3674, 1.24, 10500), (3640, 1.22, 4800), (3603, 1.21, 12000), (3498, 1.24, 9000),
    (3361, 1.27, 14500), (3311, 1.24, 7000), (3726, 0.97, 13000), (3601, 0.97, 8500), (3582, 1.0, 11500),
    (3556, 0.87, 5500), (3374, 1.02, 5800), (3388, 0.94, 4400), (3681, 0.86, 8000), (3693, 0.81, 15000),
    (3673, 0.8, 12000), (3657, 0.75, 6500), (3887, 0.79, 30000), (3846, 0.79, 17000), (3986, 0.8, 25000),
    (3986, 0.71, 11000), (3974, 0.64, 14500), (3746, 0.7, 21500), (3839, 0.68, 9500), (3407, 0.79, 7300),
    (3336, 0.75, 12500), (3232, 0.74, 14500), (3121, 0.81, 11000), (3482, 0.63, 9600), (3125, 0.55, 8300),
    (2659, 0.71, 5900), (2659, 0.59, 2800), (2659, 0.6, 2600), (3001, 0.42, 8300), (3637, 0.5, 10500),
    (3873, 0.5, 20500), (3877, 0.46, 13000), (3875, 0.38, 8000), (3853, 0.355, 15500), (3979, 0.42, 22000),
    (3768, 0.42, 6000), (3693, 0.42, 11000), (3376, 0.4, 5300), (3335, 0.42, 13500),
]

LEGEND_LABELS = [r"$\mathit{Gaia}$ Binaries" + "\n(Berger et al. 2018)",
                 "Tidally-syncronized Binaries\n(Simonian et al. 2019)",
                 "Type 1 CP/CB"]
BOUNDARY_TEFF = 3700


def columns(*groups):
    """Join (teff, prot, sph) groups into three arrays."""
    t, p, s = [], [], []
    for g in groups:
        if isinstance(g, list):
            arr = np.array(g, dtype=float)
            t.append(arr[:, 0]); p.append(arr[:, 1]); s.append(arr[:, 2])
        else:
            n = min(len(g[0]), len(g[1]), len(g[2]))
            t.append(np.array(g[0][:n], float))
            p.append(np.array(g[1][:n], float))
            s.append(np.array(g[2][:n], float))
    return np.concatenate(t), np.concatenate(p), np.concatenate(s)


gray = columns((GRAY_A_TEFF, GRAY_A_PROT, GRAY_A_SPH),
               (GRAY_B_TEFF, GRAY_B_PROT, GRAY_B_SPH),
               (GRAY_C_TEFF, GRAY_C_PROT, GRAY_C_SPH),
               (GRAY_D_TEFF, GRAY_D_PROT, GRAY_D_SPH),
               (GRAY_E_TEFF, GRAY_E_PROT, GRAY_E_SPH),
               GRAY_TOP)
blue = columns((BLUE_TEFF, BLUE_PROT, BLUE_SPH), BLUE_EXTRA)
green = columns(GREEN)
red = columns(RED)

fig = plt.figure(figsize=(14.245, 4.54), dpi=200)
ax1 = fig.add_axes([0.0534, 0.1355, 0.4215, 0.795])
ax2 = fig.add_axes([0.5584, 0.1355, 0.4205, 0.795])


def draw(ax, col, ylim, ylabel):
    ax.scatter(gray[0], gray[col], s=4.5, c="#c0c0c0", linewidths=0, zorder=1)
    hb = ax.scatter(blue[0], blue[col], s=25, c="#00489c", alpha=0.72,
                    edgecolors="#0a1a33", linewidths=0.45, zorder=2)
    hr = ax.scatter(red[0], red[col], s=28, marker="s", c="#d60000", alpha=0.9,
                    edgecolors="#222222", linewidths=0.45, zorder=3)
    hg = ax.scatter(green[0], green[col], s=62, marker="*", c="#4f9a10", alpha=0.9,
                    edgecolors="#1c3a05", linewidths=0.45, zorder=4)

    ax.set_xlim(5200, 2500)
    ax.set_yscale("log")
    ax.set_ylim(*ylim)
    ax.xaxis.set_major_locator(MultipleLocator(500))
    ax.xaxis.set_minor_locator(MultipleLocator(100))
    ax.xaxis.set_major_formatter(FuncFormatter(lambda v, pos: f"{int(v)}"))
    ax.yaxis.set_major_locator(LogLocator(base=10))
    ax.yaxis.set_minor_locator(LogLocator(base=10, subs=np.arange(2, 10)))
    ax.yaxis.set_major_formatter(FuncFormatter(lambda v, pos: f"{v:g}"))
    ax.yaxis.set_minor_formatter(NullFormatter())
    ax.tick_params(which="both", direction="out", top=True, right=True,
                   labelsize=18, width=0.9)
    ax.tick_params(which="major", length=4, pad=3)
    ax.tick_params(which="minor", length=2.3)
    for sp in ax.spines.values():
        sp.set_linewidth(1.0)

    ax.set_xlabel(r"$T_{\rm eff}$ (K)", fontsize=16, labelpad=0)
    ax.set_ylabel(ylabel, fontsize=16)

    tr = mtransforms.blended_transform_factory(ax.transData, ax.transAxes)
    ax.plot([BOUNDARY_TEFF, BOUNDARY_TEFF], [1.0, 1.073], color="k", lw=1.1,
            transform=tr, clip_on=False, zorder=5)
    ax.text(BOUNDARY_TEFF, 1.022, r"K dwarfs $\leftarrow$", transform=tr,
            ha="right", va="baseline", fontsize=16)
    ax.text(BOUNDARY_TEFF, 1.022, r"$\rightarrow$ M dwarfs", transform=tr,
            ha="left", va="baseline", fontsize=16)
    return hb, hg, hr


draw(ax1, 1, (0.2, 100), r"$P_{\rm rot}\ $ (days)")
ax1.yaxis.labelpad = 2
hb, hg, hr = draw(ax2, 2, (10, 8.2e4), r"$S_{\rm ph}$ (ppm)")

leg = ax2.legend([hb, hg, hr], LEGEND_LABELS, loc="lower right", fontsize=13,
                 scatterpoints=1, handlelength=1.2, handletextpad=0.15,
                 framealpha=0.8, fancybox=True, borderaxespad=0.5)
leg.get_frame().set_edgecolor("#999999")

fig.savefig("out.png", dpi=200)
